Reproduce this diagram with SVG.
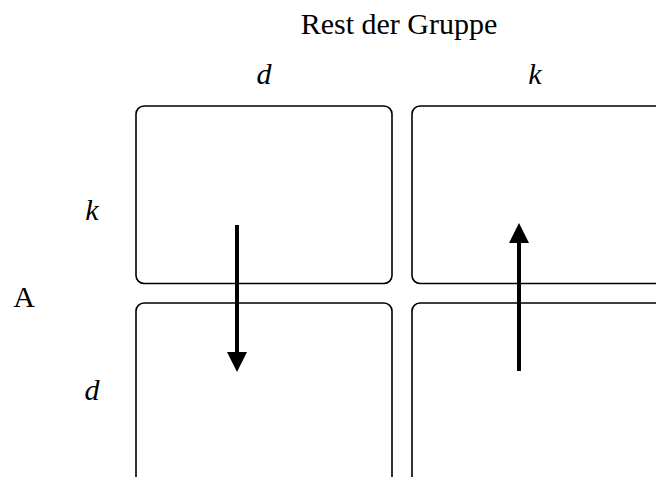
<svg xmlns="http://www.w3.org/2000/svg" width="656" height="477" viewBox="0 0 656 477">
  <defs>
    <style>
      .box { fill: none; stroke: #000; stroke-width: 1.6; }
      .arrow { stroke: #000; stroke-width: 4; fill: none; }
      .lbl { font-family: "Liberation Serif", "Times New Roman", serif; font-size: 30px; fill: #000; }
      .it { font-style: italic; }
    </style>
    <marker id="head" markerUnits="userSpaceOnUse" markerWidth="20" markerHeight="20" viewBox="0 0 18 18" refX="0" refY="9" orient="auto">
      <path d="M0,0 L18,9 L0,18 Z" fill="#000"/>
    </marker>
  </defs>
  <rect width="656" height="477" fill="#fff"/>
  <g id="title"><text class="lbl" x="399" y="34" text-anchor="middle">Rest der Gruppe</text></g>
  <g id="col-d"><text class="lbl it" x="264" y="84" text-anchor="middle">d</text></g>
  <g id="col-k"><text class="lbl it" x="535" y="84" text-anchor="middle">k</text></g>
  <g id="row-k"><text class="lbl it" x="92" y="220" text-anchor="middle">k</text></g>
  <g id="row-A"><text class="lbl" x="24" y="307" text-anchor="middle">A</text></g>
  <g id="row-d"><text class="lbl it" x="92" y="400" text-anchor="middle">d</text></g>
  <g id="cell-kd"><rect class="box" x="136" y="106" width="256" height="177.5" rx="8"/></g>
  <g id="cell-kk"><rect class="box" x="412" y="106" width="256" height="177.5" rx="8"/></g>
  <g id="cell-dd"><rect class="box" x="136" y="303" width="256" height="200" rx="8"/></g>
  <g id="cell-dk"><rect class="box" x="412" y="303" width="256" height="200" rx="8"/></g>
  <g id="connectors">
    <line class="arrow" x1="237" y1="225" x2="237" y2="352" marker-end="url(#head)"/>
    <line class="arrow" x1="519" y1="371" x2="519" y2="243" marker-end="url(#head)"/>
  </g>
</svg>
